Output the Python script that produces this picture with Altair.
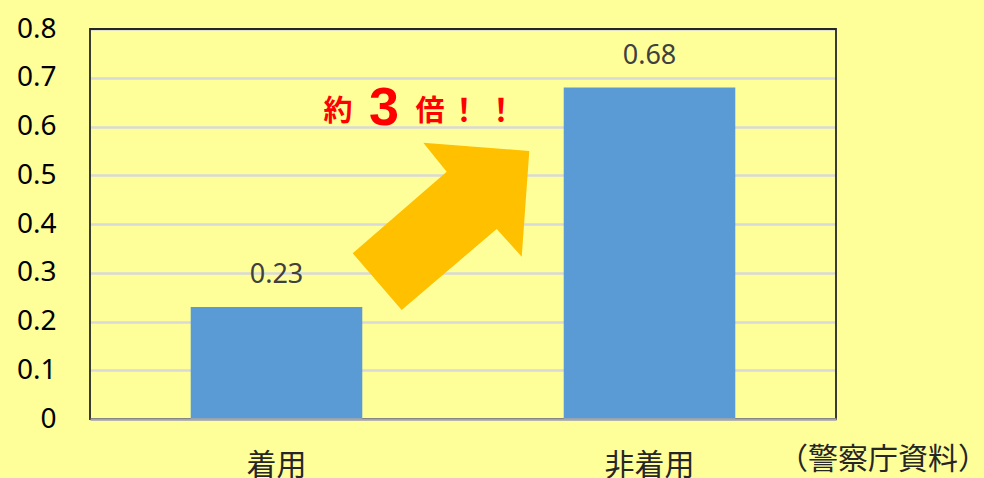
import altair as alt
import pandas as pd

# ---- data ----
categories = ["着用", "非着用"]
values = [0.23, 0.68]
y_ticks = [0, 0.1, 0.2, 0.3, 0.4, 0.5, 0.6, 0.7, 0.8]

# annotation content
note_parts = ["約", "3", "倍", "！", "！"]
source_text = "（警察庁資料）"

df = pd.DataFrame({"cat": categories, "val": values})

BG = "#FFFF99"
W, H = 746, 390

x_enc = alt.X(
    "cat:N",
    sort=categories,
    scale=alt.Scale(paddingInner=0, paddingOuter=0),
    axis=alt.Axis(
        title=None, labelAngle=0, labelFont="Noto Sans CJK JP", labelFontSize=30,
        labelColor="#262626", labelPadding=31, ticks=False,
        domainColor="#a6a6a6", domainWidth=2.5, grid=False, zindex=1,
    ),
)
y_enc = alt.Y(
    "val:Q",
    scale=alt.Scale(domain=[0, 0.8], nice=False),
    axis=alt.Axis(
        title=None, values=y_ticks, format=".1~f", labelFont="Noto Sans",
        labelFontSize=28, labelColor="#000000", labelPadding=34, ticks=False,
        domain=False, gridColor="#d9d9d9", gridWidth=2.5,
    ),
)

base = alt.Chart(df).encode(x=x_enc, y=y_enc)

one = pd.DataFrame({"k": [0]})

# plot-area frame (drawn above the grid)
frame = alt.Chart(one).mark_rect(
    fill=None, stroke="#262626", strokeWidth=1.8
).encode(x=alt.value(0), x2=alt.value(W), y=alt.value(0), y2=alt.value(H))

bars = base.mark_bar(color="#5B9BD5", width={"band": 0.46})
labels = base.mark_text(
    dy=-24, baseline="alphabetic", font="Noto Sans", fontSize=27, color="#404040"
).encode(text=alt.Text("val:Q", format=".2f"))

# arrow drawn as a custom symbol (path in -1..1 unit box)
arrow_path = (
    "M -0.981 0.303 L -0.437 0.933 L 0.619 0.033 L 0.897 0.341 "
    "L 0.981 -0.833 L -0.197 -0.926 L 0.063 -0.603 Z"
)
arrow = alt.Chart(one).mark_point(
    shape=arrow_path, size=32400, filled=True, fill="#FFC000",
    strokeWidth=0, opacity=1,
).encode(x=alt.value(351), y=alt.value(197))

red = "#FF0000"
t1 = alt.Chart(one).mark_text(
    text=note_parts[0], font="Noto Sans CJK JP", fontWeight="bold", fontSize=29,
    color=red, baseline="middle", align="center",
).encode(x=alt.value(248), y=alt.value(83))
t2 = alt.Chart(one).mark_text(
    text=note_parts[1], font="Liberation Sans", fontWeight="bold", fontSize=54,
    color=red, baseline="alphabetic", align="center",
).encode(x=alt.value(294), y=alt.value(96))
t3 = alt.Chart(one).mark_text(
    text=note_parts[2], font="Noto Sans CJK JP", fontWeight="bold", fontSize=29,
    color=red, baseline="middle", align="center",
).encode(x=alt.value(340), y=alt.value(83))
t4 = alt.Chart(one).mark_text(
    text=note_parts[3], font="Noto Sans CJK JP", fontWeight="bold", fontSize=31,
    color=red, baseline="middle", align="center",
).encode(x=alt.value(374), y=alt.value(83))
t5 = alt.Chart(one).mark_text(
    text=note_parts[4], font="Noto Sans CJK JP", fontWeight="bold", fontSize=31,
    color=red, baseline="middle", align="center",
).encode(x=alt.value(411), y=alt.value(83))

src = alt.Chart(one).mark_text(
    text=source_text, font="Noto Sans CJK JP", fontSize=30, color="#262626",
    baseline="alphabetic", align="left",
).encode(x=alt.value(688), y=alt.value(440))

chart = (
    alt.layer(frame, bars, labels, arrow, t1, t2, t3, t4, t5, src)
    .properties(
        width=W, height=H, background=BG,
        autosize=alt.AutoSizeParams(type="none"),
        padding={"left": 90, "top": 29, "right": 148, "bottom": 59},
    )
    .configure_view(stroke=None, fill=BG)
)

chart.save("out.html", embed_options={"renderer": "svg", "actions": False})
